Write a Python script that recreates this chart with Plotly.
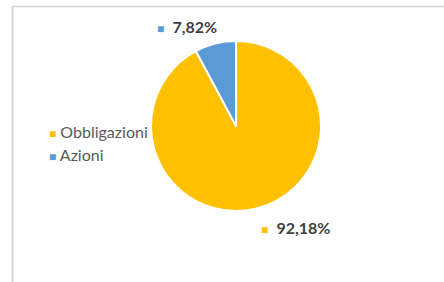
import plotly.graph_objects as go

categories = ["Obbligazioni", "Azioni"]
values = [92.18, 7.82]
colors = ["#FFC000", "#5B9BD5"]

W, H = 444, 282
fig = go.Figure()
fig.add_trace(go.Pie(
    labels=categories, values=values, sort=False, direction="clockwise", rotation=0,
    marker=dict(colors=colors, line=dict(color="white", width=2)),
    textinfo="none", hoverinfo="label+percent", showlegend=False,
    domain=dict(x=[151/W, 321/W], y=[1-211/H, 1-41/H]),
))

def fmt(v):
    return f"{v:.2f}".replace(".", ",") + "%"

# data labels
label_pos = [(259/W, 1-227/H), (155/W, 1-27/H)]
for (x, y), v, c in zip(label_pos, values, colors):
    fig.add_annotation(
        x=x, y=y, xref="paper", yref="paper", xanchor="left", yanchor="middle",
        text=f"<span style='color:{c};font-size:12px'>■</span>  <b>{fmt(v)}</b>",
        showarrow=False, font=dict(family="Lato", size=16, color="#404040"),
    )

# legend
leg_y = [131, 154]
for name, c, y in zip(categories, colors, leg_y):
    fig.add_annotation(
        x=47/W, y=1-y/H, xref="paper", yref="paper", xanchor="left", yanchor="middle",
        text=f"<span style='color:{c};font-size:12px'>■</span> {name}",
        showarrow=False, font=dict(family="Lato", size=16, color="#595959"),
    )

# chart frame (top and left edges)
fig.add_shape(type="line", xref="paper", yref="paper",
              x0=12/W, x1=1.0, y0=1-6.5/H, y1=1-6.5/H,
              line=dict(color="#D6D6D6", width=1.5))
fig.add_shape(type="line", xref="paper", yref="paper",
              x0=12.5/W, x1=12.5/W, y0=0, y1=1-6/H,
              line=dict(color="#D6D6D6", width=2))

fig.update_layout(
    width=W, height=H, margin=dict(l=0, r=0, t=0, b=0),
    paper_bgcolor="white", plot_bgcolor="white",
    showlegend=False,
)
fig.write_html("out.html", config={"displayModeBar": False},
               post_script="document.body.style.margin='0';")
